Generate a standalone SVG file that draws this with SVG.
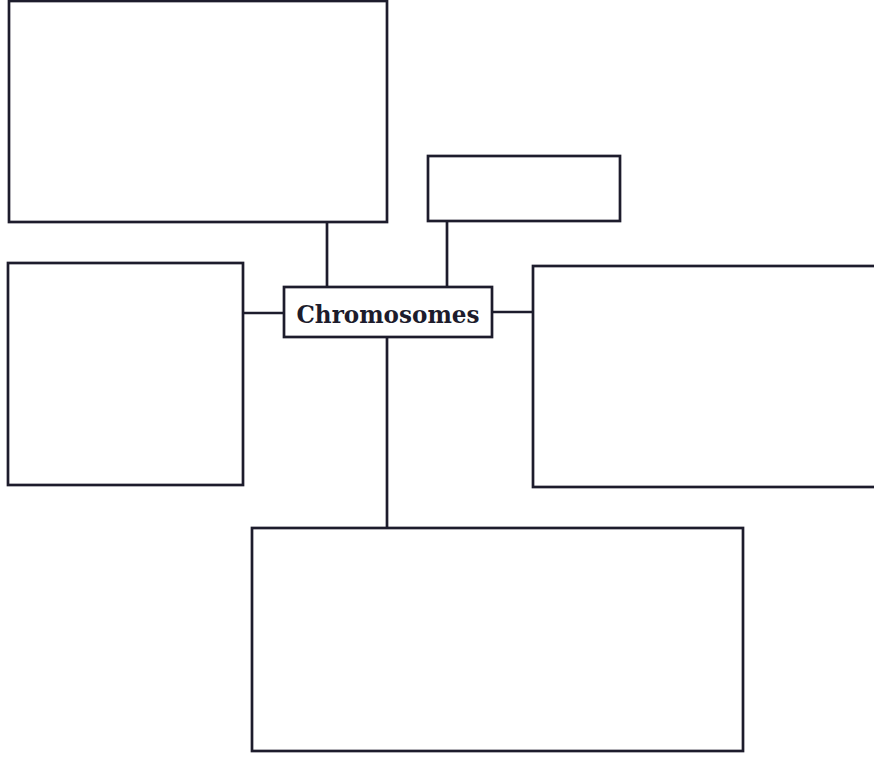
<svg xmlns="http://www.w3.org/2000/svg" width="874" height="761" viewBox="0 0 874 761">
<style>
.box{fill:#fff;stroke:#1d1c2c;stroke-width:2.7}
.con{stroke:#1d1c2c;stroke-width:2.7;fill:none}
.lbl{font-family:"DejaVu Serif","Liberation Serif",serif;font-weight:bold;font-size:24px;fill:#1d1c2c}
</style>
<rect width="874" height="761" fill="#fff"/>
<g id="connectors">
<line class="con" x1="327" y1="222" x2="327" y2="287"/>
<line class="con" x1="447" y1="221" x2="447" y2="287"/>
<line class="con" x1="243" y1="313" x2="284" y2="313"/>
<line class="con" x1="492" y1="312" x2="533" y2="312"/>
<line class="con" x1="387" y1="337" x2="387" y2="528"/>
</g>
<g id="box-top-left"><rect class="box" x="9" y="1" width="378" height="221"/></g>
<g id="box-top-small"><rect class="box" x="428" y="156" width="192" height="65"/></g>
<g id="box-left"><rect class="box" x="8" y="263" width="235" height="222"/></g>
<g id="box-right"><rect class="box" x="533" y="266" width="350" height="221"/></g>
<g id="box-bottom"><rect class="box" x="252" y="528" width="491" height="223"/></g>
<g id="center"><rect class="box" x="284" y="287" width="208" height="50"/>
<text class="lbl" x="388" y="323" text-anchor="middle" textLength="183" lengthAdjust="spacingAndGlyphs">Chromosomes</text></g>
</svg>
